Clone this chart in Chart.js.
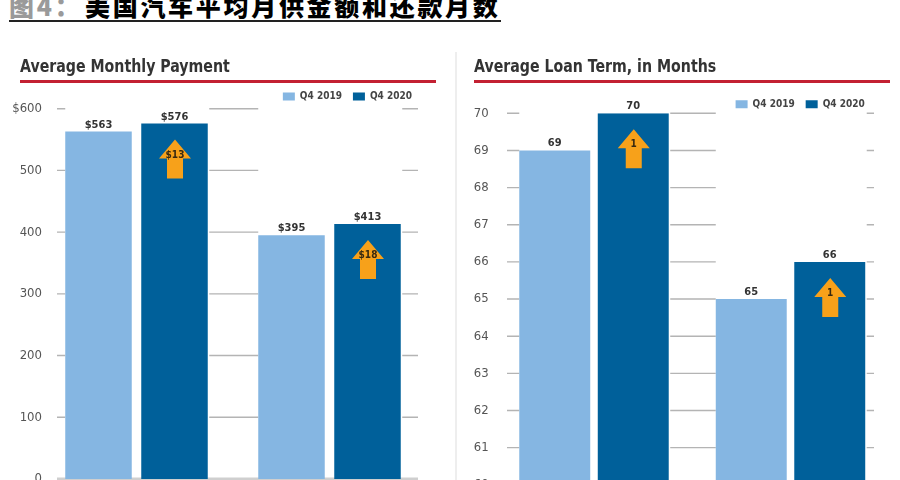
<!DOCTYPE html>
<html lang="zh">
<head>
<meta charset="utf-8">
<script src="https://cdn.jsdelivr.net/npm/chart.js@4"></script>
<style>
html,body{margin:0;padding:0;background:#fff;width:900px;height:480px;overflow:hidden}
canvas{position:absolute;top:0;filter:blur(.35px)}
#c1{left:0}#c2{left:450px}
.fig{position:absolute;top:-8px;font:900 25px/26px "Noto Sans CJK SC",sans-serif;letter-spacing:2.7px;color:#000;white-space:nowrap}
.fig.g{color:#9a9a9a}
.rule{position:absolute;left:9px;top:20px;width:492px;height:2px;background:#222}
.pt{position:absolute;top:55px;font:700 18px/22px "DejaVu Sans Condensed","Liberation Sans Narrow",sans-serif;color:#333;white-space:nowrap;transform-origin:0 50%;transform:scaleX(.875);filter:blur(.35px)}
.red{position:absolute;top:79.5px;height:3.5px;background:#c32032}
.div{position:absolute;left:455px;top:52px;width:1.5px;height:430px;background:#eeeeee}
</style>
</head>
<body>
<div class="fig g" style="left:9px">图4：</div>
<div class="fig" style="left:85px">美国汽车平均月供金额和还款月数</div>
<div class="rule"></div>
<div class="pt" style="left:20px">Average Monthly Payment</div>
<div class="red" style="left:20px;width:416px"></div>
<div class="pt" style="left:474px">Average Loan Term, in Months</div>
<div class="red" style="left:474px;width:416px"></div>
<div class="div"></div>
<canvas id="c1" width="450" height="500"></canvas>
<canvas id="c2" width="450" height="500"></canvas>
<script>
const categories = ["New vehicles", "Used vehicles"];
const seriesNames = ["Q4 2019", "Q4 2020"];
const paymentQ419 = [563, 395];
const paymentQ420 = [576, 413];
const paymentChange = ["$13", "$18"];
const termQ419 = [69, 65];
const termQ420 = [70, 66];
const termChange = ["1", "1"];

const LIGHT = "#85b6e2", DARK = "#00609a", ORANGE = "#f7a11a";
const NARROW = '"DejaVu Sans Condensed","Liberation Sans Narrow",sans-serif';

const gridSegments = {
  id: "gridSegments",
  beforeDatasetsDraw(chart, args, o) {
    const y = chart.scales.y, c = chart.ctx;
    const m0 = chart.getDatasetMeta(0).data, m1 = chart.getDatasetMeta(1).data;
    c.save();
    y.ticks.forEach(t => {
      const py = y.getPixelForValue(t.value);
      let x = o.from;
      const isBase = t.value === y.min;
      c.strokeStyle = isBase ? "#cfcfcf" : "#b4b4b4";
      c.lineWidth = isBase ? 3 : 1.4;
      c.beginPath();
      if (isBase) { c.moveTo(o.from, py); c.lineTo(o.to, py); }
      else {
        m0.forEach((b, i) => {
          c.moveTo(x, py); c.lineTo(b.x - b.width / 2, py);
          x = m1[i].x + m1[i].width / 2 + 1.5;
        });
        c.moveTo(x, py); c.lineTo(o.to, py);
      }
      c.stroke();
    });
    c.restore();
  }
};

const barNotes = {
  id: "barNotes",
  afterDatasetsDraw(chart, args, o) {
    const c = chart.ctx;
    c.save();
    c.textAlign = "center";
    c.textBaseline = "alphabetic";
    c.font = "700 11px " + NARROW;
    c.fillStyle = "#333";
    chart.data.datasets.forEach((ds, d) => {
      chart.getDatasetMeta(d).data.forEach((b, i) => {
        c.fillText(o.prefix + ds.data[i], b.x, b.y - 4);
      });
    });
    chart.getDatasetMeta(1).data.forEach((b, i) => {
      const cx = b.x + 0.5, tip = b.y + 16;
      c.fillStyle = ORANGE;
      c.beginPath();
      c.moveTo(cx, tip);
      c.lineTo(cx + 16, tip + 19);
      c.lineTo(cx + 8, tip + 19);
      c.lineTo(cx + 8, tip + 39);
      c.lineTo(cx - 8, tip + 39);
      c.lineTo(cx - 8, tip + 19);
      c.lineTo(cx - 16, tip + 19);
      c.closePath();
      c.fill();
      c.fillStyle = "#3a2a10";
      c.font = "700 10px " + NARROW;
      c.fillText(o.change[i], cx, tip + 18);
    });
    c.restore();
  }
};

function legendFit(h, shift) {
  return {
    id: "legendFit",
    beforeInit(chart) {
      const f = chart.legend.fit;
      chart.legend.fit = function () { f.call(this); this.height = h; };
    },
    afterLayout(chart) { chart.legend.right -= shift; }
  };
}

function build(id, a, b, cfg) {
  new Chart(document.getElementById(id), {
    type: "bar",
    data: {
      labels: categories,
      datasets: [
        { label: seriesNames[0], data: a, backgroundColor: LIGHT, categoryPercentage: cfg.cat, barPercentage: cfg.bar },
        { label: seriesNames[1], data: b, backgroundColor: DARK, categoryPercentage: cfg.cat, barPercentage: cfg.bar }
      ]
    },
    options: {
      responsive: false,
      animation: false,
      layout: { padding: { top: cfg.top, bottom: cfg.bottom, left: 0, right: cfg.right } },
      scales: {
        x: { display: false },
        y: {
          min: cfg.min, max: cfg.max,
          border: { display: false },
          grid: { display: false },
          afterFit(s) {
            s.width = cfg.axis;
            s._computeLabelArea = () => undefined;
          },
          ticks: {
            stepSize: cfg.step,
            padding: cfg.pad,
            color: "#555",
            font: { family: NARROW, size: 13 },
            callback: cfg.tick
          }
        }
      },
      plugins: {
        tooltip: { enabled: false },
        legend: {
          position: "top",
          align: "end",
          labels: {
            boxWidth: 12, boxHeight: 8, padding: 11,
            color: "#444",
            font: { family: NARROW, size: 10, weight: "700" }
          }
        },
        gridSegments: { from: cfg.from, to: cfg.to },
        barNotes: { prefix: cfg.prefix, change: cfg.change }
      }
    },
    plugins: [gridSegments, barNotes, legendFit(cfg.legendH, cfg.shift)]
  });
}

build("c1", paymentQ419, paymentQ420, {
  cat: 0.7876, bar: 0.875, top: 80.5, bottom: 21, right: 24, axis: 40, pad: -10,
  min: 0, max: 600, step: 100, legendH: 28.2, shift: 3,
  tick: v => v === 600 ? "$600" : String(v),
  from: 57, to: 418, prefix: "$", change: paymentChange
});
build("c2", termQ419, termQ420, {
  cat: 0.799, bar: 0.904, top: 88.2, bottom: 15.2, right: 11.25, axis: 45.75, pad: -1,
  min: 60, max: 70, step: 1, legendH: 25.1, shift: 13,
  tick: v => String(v),
  from: 57, to: 424, prefix: "", change: termChange
});
</script>
</body>
</html>
